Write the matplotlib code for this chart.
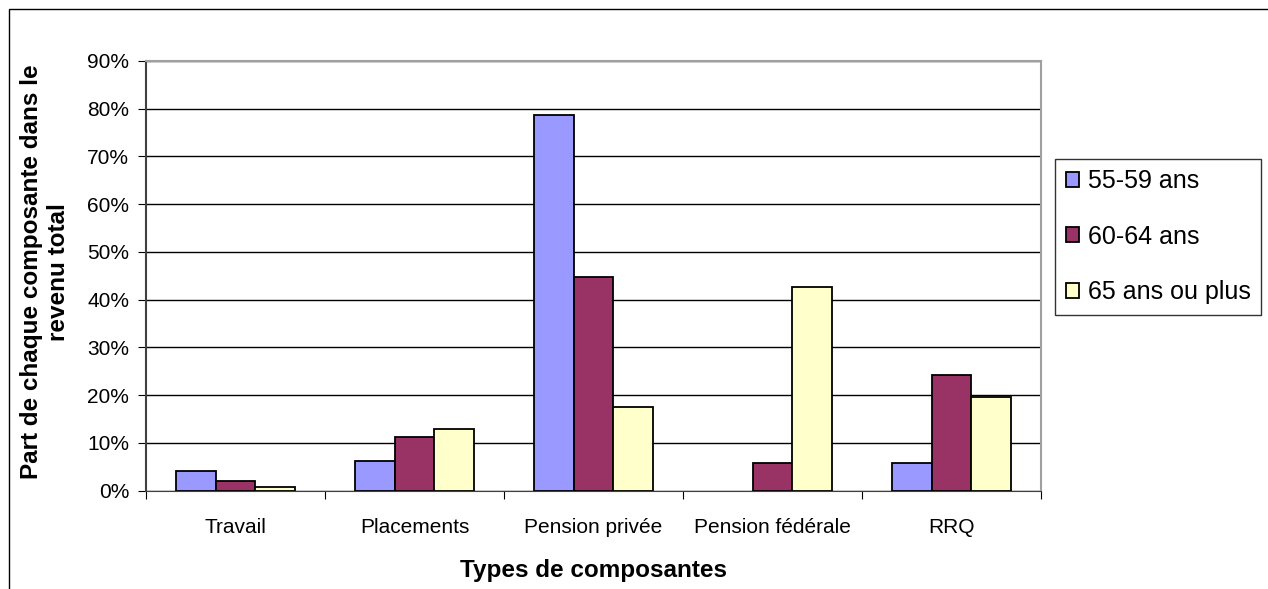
import numpy as np
import matplotlib.pyplot as plt
from matplotlib.patches import Rectangle

# =============================================================================
# data
# =============================================================================
categories = ["Travail", "Placements", "Pension privée", "Pension fédérale", "RRQ"]
groups = ["55-59 ans", "60-64 ans", "65 ans ou plus"]
age_55_59 = [4.1, 6.2, 78.7, 0.0, 5.8]
age_60_64 = [2.0, 11.2, 44.8, 5.8, 24.2]
age_65_plus = [0.8, 12.9, 17.5, 42.7, 19.5]
colors = ["#9999FF", "#993366", "#FFFFCC"]

plt.rcParams['font.family'] = ['Liberation Sans', 'DejaVu Sans']

fig = plt.figure(figsize=(12.68, 5.89), dpi=100)
W, H = 1268, 589
# plot area in pixels: left 146, right 1041, top 61, bottom 490
ax = fig.add_axes([146 / W, 1 - 490.5 / H, (1041 - 146) / W, (490.5 - 61) / H])

# outer chart frame
fig.patches.append(Rectangle((9 / W, -0.1), 1.2, 1 - 9 / H + 0.1, transform=fig.transFigure,
                             fill=False, edgecolor="black", linewidth=1))

x = np.arange(len(categories))
w = 0.223
series = [age_55_59, age_60_64, age_65_plus]
for i, vals in enumerate(series):
    bars = ax.bar(x + (i - 1) * w, vals, width=w, color=colors[i], edgecolor="black",
                  linewidth=1.3, label=groups[i], zorder=3)
    # no visible bar where the value is zero
    for b, v in zip(bars, vals):
        if v == 0:
            b.set_visible(False)

ax.set_xlim(-0.5, len(categories) - 0.5)
ax.set_ylim(0, 90)
ax.set_yticks(np.arange(0, 91, 10))
ax.set_yticklabels([f"{v}%" for v in range(0, 91, 10)], fontsize=15)
ax.yaxis.grid(True, color="black", linewidth=1, zorder=0)

ax.set_xticks(np.arange(-0.5, len(categories), 1.0))
ax.set_xticklabels([])
ax.set_xticks(x, minor=True)
ax.set_xticklabels(categories, minor=True, fontsize=15)
ax.tick_params(axis="x", which="minor", length=0, pad=20)
ax.tick_params(axis="x", which="major", length=6, color="black", direction="out")
ax.tick_params(axis="y", length=6, direction="out", pad=6)

ax.spines["top"].set_color("#a0a0a0")
ax.spines["right"].set_color("#a0a0a0")
ax.spines["top"].set_linewidth(1.5)
ax.spines["right"].set_linewidth(1.5)
ax.spines["left"].set_color("#404040")
ax.spines["left"].set_linewidth(1.5)
ax.spines["bottom"].set_color("#404040")

fig.text(593 / W, 1 - 571 / H, "Types de composantes", ha="center", va="center",
         fontsize=17.5, fontweight="bold")
fig.text(45 / W, 1 - 272 / H, "Part de chaque composante dans le\nrevenu total",
         rotation=90, ha="center", va="center", fontsize=17.5, fontweight="bold",
         linespacing=1.2)

leg = ax.legend(loc="upper left", bbox_to_anchor=(1055 / W, 1 - 159 / H),
                bbox_transform=fig.transFigure, fontsize=18, frameon=True,
                fancybox=False, edgecolor="black", handlelength=0.55,
                handleheight=0.55, handletextpad=0.35, labelspacing=1.25,
                borderpad=0.42, borderaxespad=0)
leg.get_frame().set_linewidth(1)

plt.savefig("out.png", dpi=100)
